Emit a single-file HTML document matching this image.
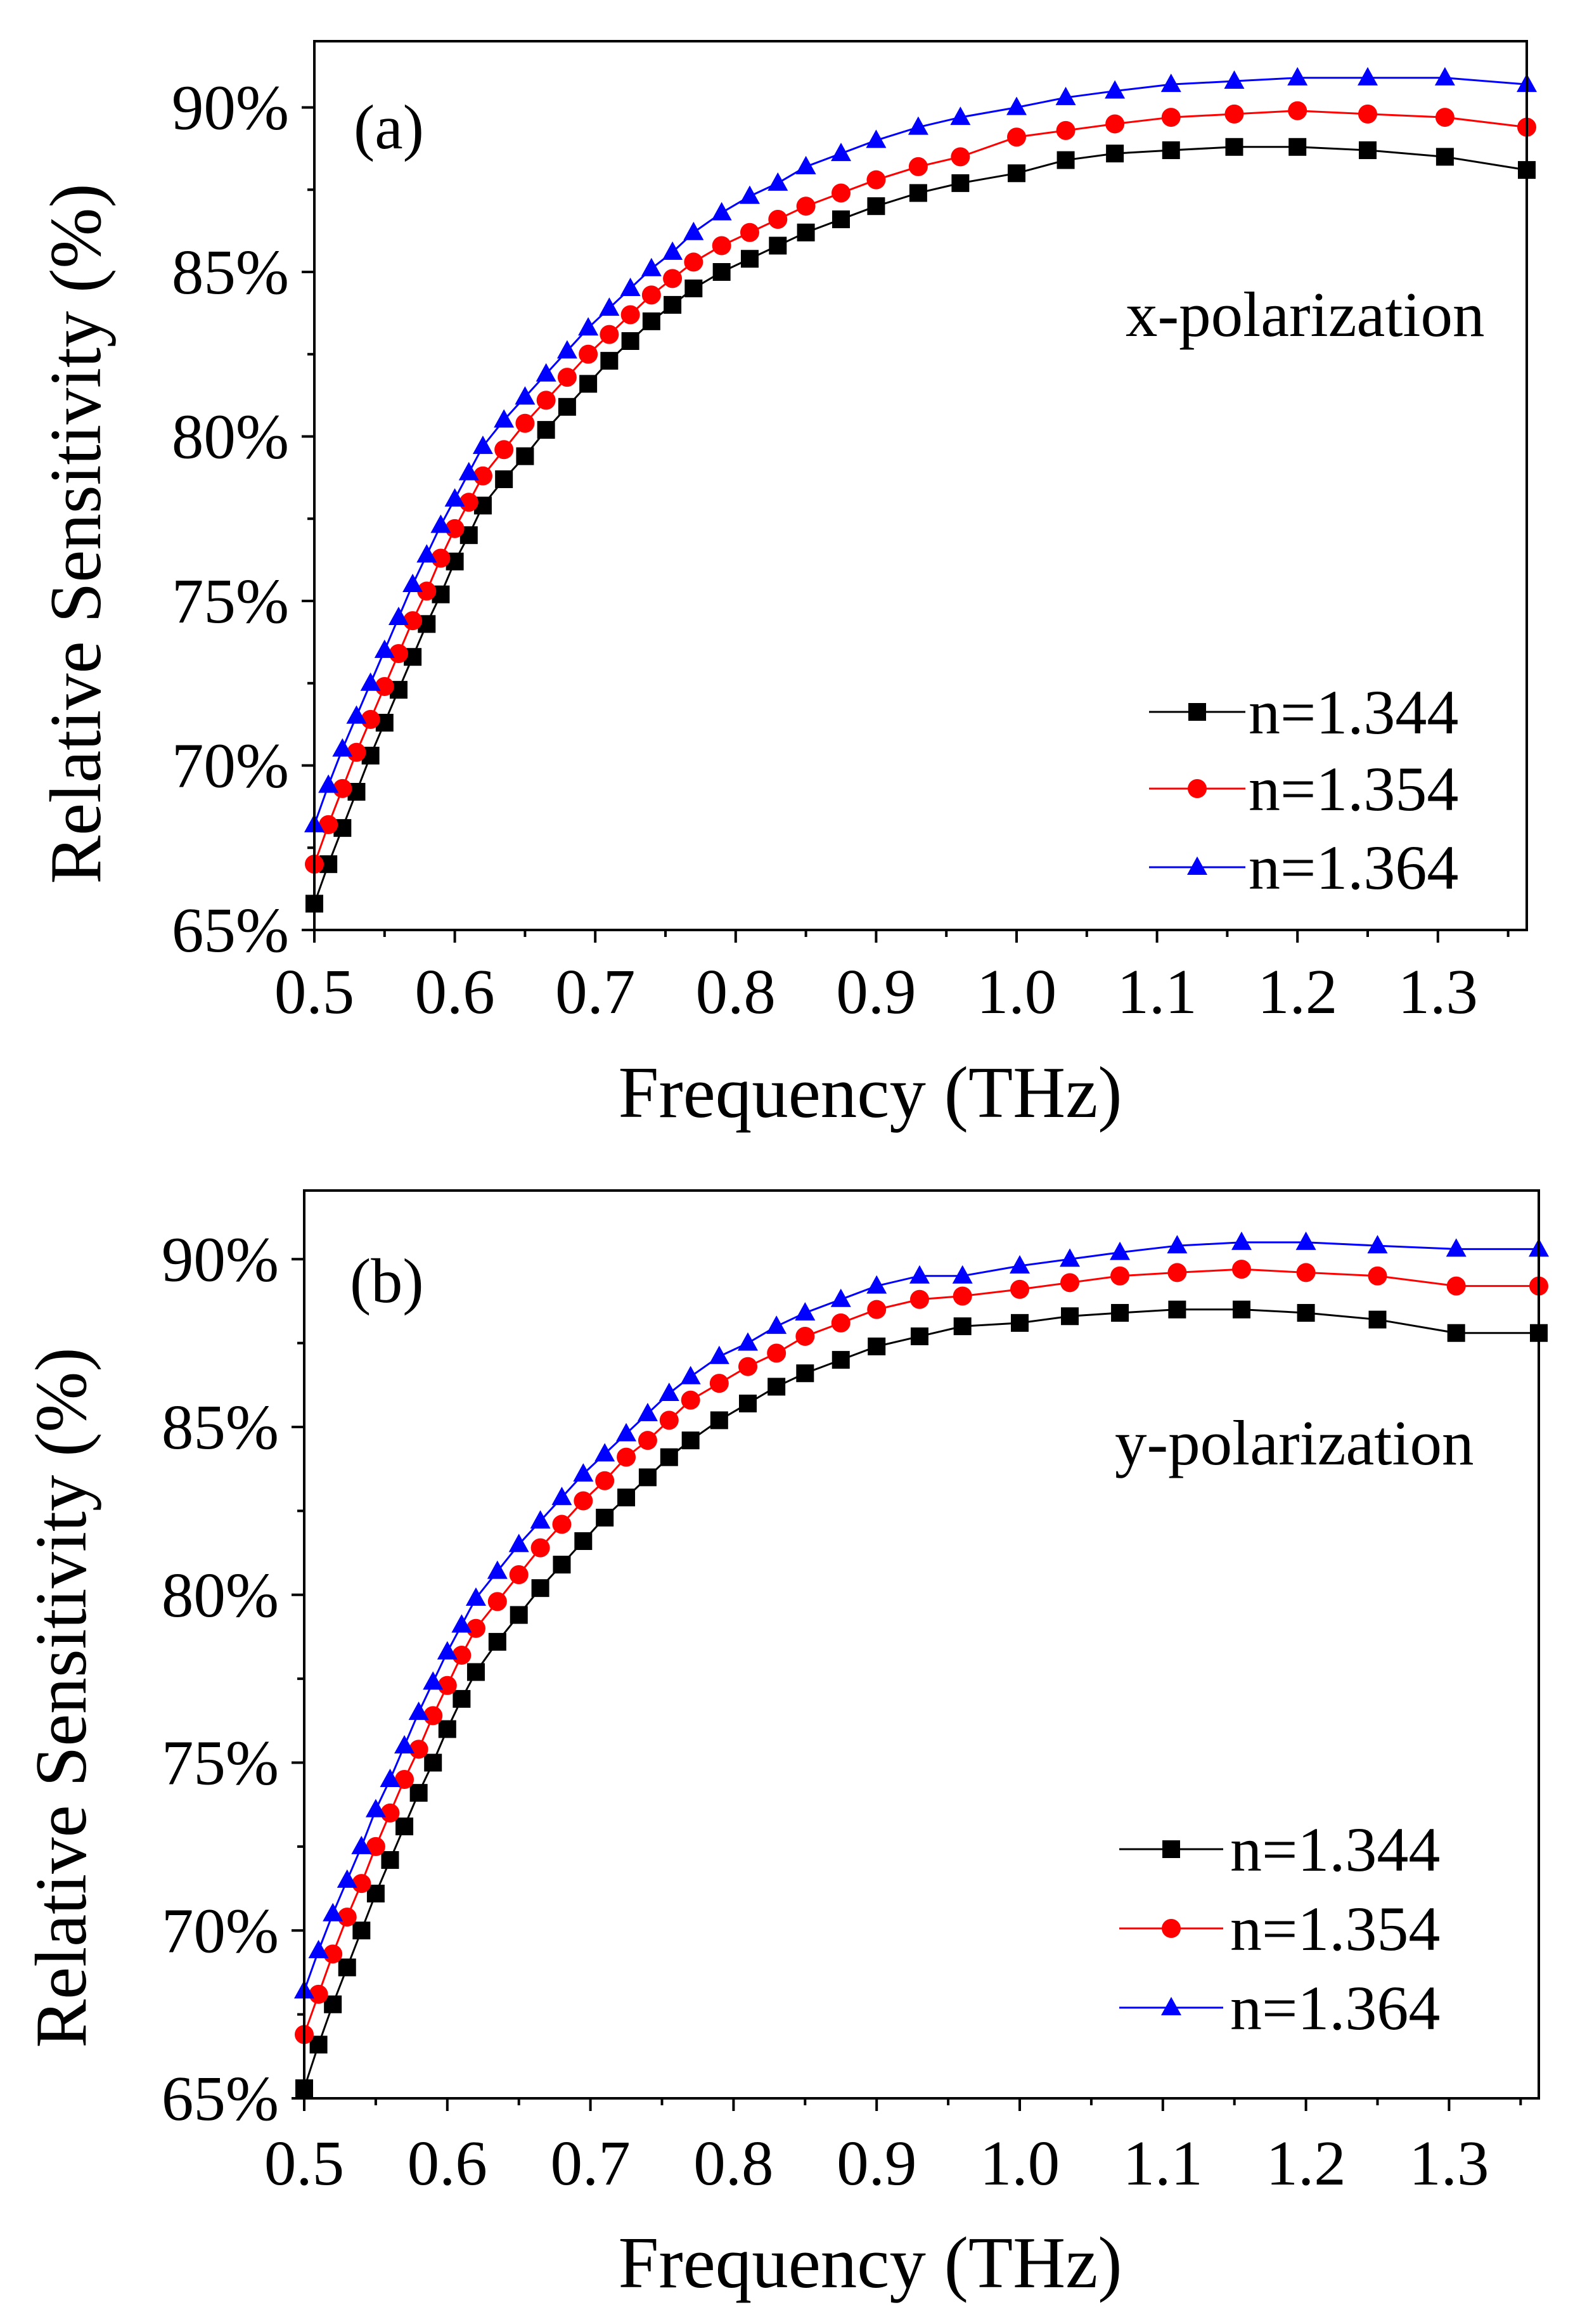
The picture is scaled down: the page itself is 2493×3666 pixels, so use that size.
<!DOCTYPE html>
<html><head><meta charset="utf-8"><style>
html,body{margin:0;padding:0;background:#fff}
svg{display:block}
text{font-family:"Liberation Serif","Times New Roman",serif;fill:#000}
</style></head><body>
<svg id="chart" width="2493" height="3666" viewBox="0 0 2493 3666" xmlns="http://www.w3.org/2000/svg"></svg>
<script>
const freqs=[0.50,0.51,0.52,0.53,0.54,0.55,0.56,0.57,0.58,0.59,0.60,0.61,0.62,0.635,0.65,0.665,0.68,0.695,0.71,0.725,0.74,0.755,0.77,0.79,0.81,0.83,0.85,0.875,0.90,0.93,0.96,1.00,1.035,1.07,1.11,1.155,1.20,1.25,1.305,1.365];
const aBlack=[65.8,67.0,68.1,69.2,70.3,71.3,72.3,73.3,74.3,75.2,76.2,77.0,77.9,78.7,79.4,80.2,80.9,81.6,82.3,82.9,83.5,84.0,84.5,85.0,85.4,85.8,86.2,86.6,87.0,87.4,87.7,88.0,88.4,88.6,88.7,88.8,88.8,88.7,88.5,88.1];
const aRed=[67.0,68.2,69.3,70.4,71.4,72.4,73.4,74.4,75.3,76.3,77.2,78.0,78.8,79.6,80.4,81.1,81.8,82.5,83.1,83.7,84.3,84.8,85.3,85.8,86.2,86.6,87.0,87.4,87.8,88.2,88.5,89.1,89.3,89.5,89.7,89.8,89.9,89.8,89.7,89.4];
const aBlue=[68.2,69.4,70.5,71.5,72.5,73.5,74.5,75.5,76.4,77.3,78.1,78.9,79.7,80.5,81.2,81.9,82.6,83.3,83.9,84.5,85.1,85.6,86.2,86.8,87.3,87.7,88.2,88.6,89.0,89.4,89.7,90.0,90.3,90.5,90.7,90.8,90.9,90.9,90.9,90.7];
const bBlack=[65.3,66.6,67.8,68.9,70.0,71.1,72.1,73.1,74.1,75.0,76.0,76.9,77.7,78.6,79.4,80.2,80.9,81.6,82.3,82.9,83.5,84.1,84.6,85.2,85.7,86.2,86.6,87.0,87.4,87.7,88.0,88.1,88.3,88.4,88.5,88.5,88.4,88.2,87.8,87.8];
const bRed=[66.9,68.1,69.3,70.4,71.4,72.5,73.5,74.5,75.4,76.4,77.3,78.2,79.0,79.8,80.6,81.4,82.1,82.8,83.4,84.1,84.6,85.2,85.8,86.3,86.8,87.2,87.7,88.1,88.5,88.8,88.9,89.1,89.3,89.5,89.6,89.7,89.6,89.5,89.2,89.2];
const bBlue=[68.2,69.4,70.5,71.5,72.5,73.6,74.5,75.5,76.5,77.4,78.3,79.1,79.9,80.7,81.5,82.2,82.9,83.6,84.2,84.8,85.4,86.0,86.5,87.1,87.5,88.0,88.4,88.8,89.2,89.5,89.5,89.8,90.0,90.2,90.4,90.5,90.5,90.4,90.3,90.3];
const xTicks=[0.5,0.6,0.7,0.8,0.9,1.0,1.1,1.2,1.3];
const xTickLabels=["0.5","0.6","0.7","0.8","0.9","1.0","1.1","1.2","1.3"];
const yTicks=[65,70,75,80,85,90];
const yTickLabels=["65%","70%","75%","80%","85%","90%"];
const legendLabels=["n=1.344","n=1.354","n=1.364"];

const NS="http://www.w3.org/2000/svg";
const svg=document.getElementById('chart');
const FF='Liberation Serif, serif';
function mk(tag,attrs,parent){const e=document.createElementNS(NS,tag);for(const k in attrs)e.setAttribute(k,attrs[k]);if(tag==='text')e.setAttribute('font-family',FF);(parent||svg).appendChild(e);return e;}

function marker(g,kind,x,y,col){
  let m;
  if(kind==='sq') m=mk('rect',{x:x-14,y:y-14,width:28,height:28,fill:col},g);
  else if(kind==='ci') m=mk('circle',{cx:x,cy:y,r:15,fill:col},g);
  else m=mk('polygon',{points:`${x},${y-17} ${x+16},${y+12} ${x-16},${y+12}`,fill:col},g);
  
  
}

function panel(p){
  const g=mk('g',{});
  
  
  const X=f=>p.L+(f-0.5)*p.sx, Y=v=>p.B-(v-65)*p.sy;
  const xMax=0.5+(p.R-p.L)/p.sx;
  const series=[[p.d[0],'#000','sq'],[p.d[1],'#f00','ci'],[p.d[2],'#00f','tr']];
  series.forEach((s,i)=>{
    const sg=mk('g',{},g);
    
    
    const pts=[];
    freqs.forEach((f,j)=>{if(f<=xMax+0.01)pts.push([X(Math.min(f,xMax)),Y(s[0][j])]);});
    const ln=mk('polyline',{points:pts.map(q=>q.join(',')).join(' '),fill:'none',stroke:s[1],'stroke-width':3},sg);
    
    
    pts.forEach(q=>marker(sg,s[2],q[0],q[1],s[1]));
  });
  const fr=mk('rect',{x:p.L,y:p.T,width:p.R-p.L,height:p.B-p.T,fill:'none',stroke:'#000','stroke-width':4},g);
  
  
  for(let v=65;v<=92;v+=2.5){
    const major=Math.abs(v%5)<0.01;
    mk('line',{x1:p.L,x2:p.L-(major?20:11),y1:Y(v),y2:Y(v),stroke:'#000','stroke-width':4},g);
  }
  yTicks.forEach((v,i)=>{
    const t=mk('text',{x:p.L-40,y:Y(v)+34,'text-anchor':'end','font-size':101},g);
    t.textContent=yTickLabels[i];
    
    
  });
  for(let f=0.5;f<=xMax+0.001;f+=0.05){
    const major=Math.abs(Math.round(f*20)%2)<0.01;
    mk('line',{x1:X(f),x2:X(f),y1:p.B,y2:p.B+(major?20:11),stroke:'#000','stroke-width':4},g);
  }
  xTicks.forEach((f,i)=>{
    const t=mk('text',{x:X(f),y:p.xl,'text-anchor':'middle','font-size':101},g);
    t.textContent=xTickLabels[i];
    
    
  });
  let t=mk('text',{x:p.xtx,y:p.xt,'text-anchor':'middle','font-size':115},g);
  t.textContent='Frequency (THz)';
  
  
  t=mk('text',{x:p.yt,y:p.yty,'text-anchor':'middle','font-size':115,transform:`rotate(-90 ${p.yt} ${p.yty})`},g);
  t.textContent='Relative Sensitivity (%)';
  
  
  t=mk('text',{x:p.lab[0],y:p.lab[1],'font-size':100},g);
  t.textContent=p.label;
  
  
  t=mk('text',{x:p.pol[0],y:p.pol[1],'font-size':101},g);
  t.textContent=p.polText;
  
  
  const lg=mk('g',{},g);
  
  
  series.forEach((s,i)=>{
    const y=p.leg.y[i];
    const e=mk('g',{},lg);
    
    
    mk('line',{x1:p.leg.x1,x2:p.leg.x2,y1:y,y2:y,stroke:s[1],'stroke-width':3},e);
    marker(e,s[2],(p.leg.x1+p.leg.x2)/2,y,s[1]);
    const tt=mk('text',{x:p.leg.tx,y:y+34,'font-size':100},e);
    tt.textContent=legendLabels[i];
  });
}

panel({name:'panel-a',L:496,R:2409,T:65,B:1467,sx:2216,sy:51.9,d:[aBlack,aRed,aBlue],xl:1598,xt:1762,xtx:1373,yt:158,yty:842,
  lab:[558,234],label:'(a)',pol:[1776,530],polText:'x-polarization',
  leg:{x1:1813,x2:1965,tx:1970,y:[1123,1244,1368]}});
panel({name:'panel-b',L:480,R:2428,T:1878,B:3310,sx:2258,sy:52.95,d:[bBlack,bRed,bBlue],xl:3446,xt:3608,xtx:1373,yt:135,yty:2678,
  lab:[552,2054],label:'(b)',pol:[1759,2310],polText:'y-polarization',
  leg:{x1:1766,x2:1930,tx:1941,y:[2917,3042,3167]}});
</script>
</body></html>
